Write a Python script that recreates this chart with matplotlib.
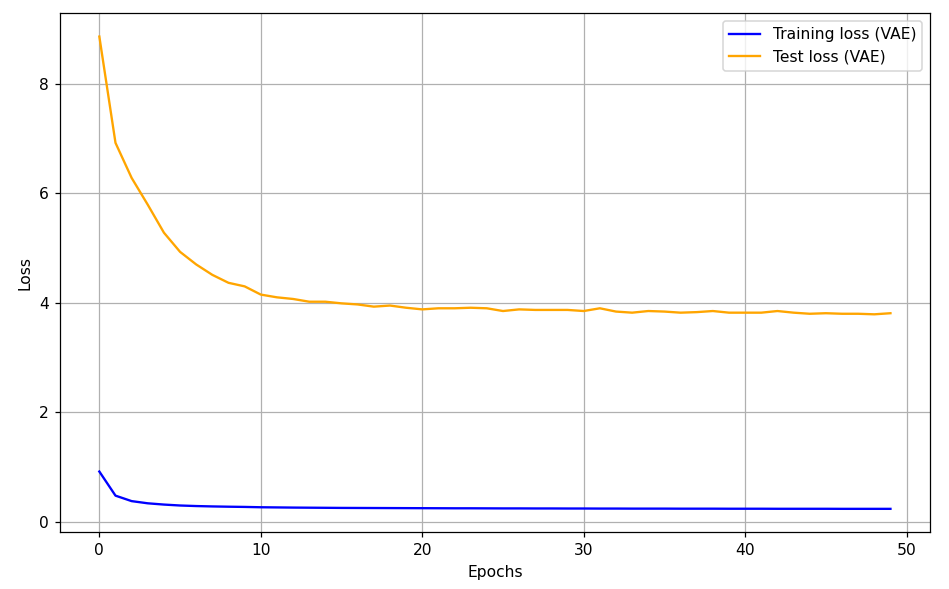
import numpy as np
import matplotlib
matplotlib.use('Agg')
import matplotlib.pyplot as plt

# values, one per epoch
train_loss = [0.92, 0.48, 0.38, 0.34, 0.317, 0.30, 0.29, 0.283, 0.278, 0.274,
              0.268, 0.265, 0.262, 0.260, 0.258, 0.256, 0.255, 0.254, 0.253, 0.252,
              0.251, 0.250, 0.249, 0.249, 0.248, 0.247, 0.247, 0.246, 0.246, 0.245,
              0.245, 0.244, 0.244, 0.243, 0.243, 0.243, 0.242, 0.242, 0.242, 0.241,
              0.241, 0.241, 0.240, 0.240, 0.240, 0.240, 0.239, 0.239, 0.239, 0.239]
test_loss = [8.86, 6.92, 6.28, 5.79, 5.28, 4.93, 4.70, 4.51, 4.365, 4.30,
             4.15, 4.10, 4.07, 4.02, 4.02, 3.99, 3.97, 3.93, 3.95, 3.91,
             3.88, 3.90, 3.90, 3.91, 3.90, 3.85, 3.88, 3.87, 3.87, 3.87,
             3.85, 3.90, 3.84, 3.82, 3.85, 3.84, 3.82, 3.83, 3.85, 3.82,
             3.82, 3.82, 3.85, 3.82, 3.80, 3.81, 3.80, 3.80, 3.79, 3.81]
epochs = np.arange(len(test_loss))

# reference looks like a slightly enlarged render, so bump dpi instead of fonts
dpi = 112
fig, ax = plt.subplots(figsize=(949 / dpi, 589 / dpi), dpi=dpi)
fig.subplots_adjust(left=0.063, right=0.980, top=0.978, bottom=0.096)

ax.plot(epochs, train_loss, color='blue', label='Training loss (VAE)')
ax.plot(epochs, test_loss, color='orange', label='Test loss (VAE)')
ax.set_xlabel('Epochs')
ax.set_ylabel('Loss')
ax.legend(loc='upper right')
ax.grid(True)

fig.savefig('out.png', dpi=dpi)
